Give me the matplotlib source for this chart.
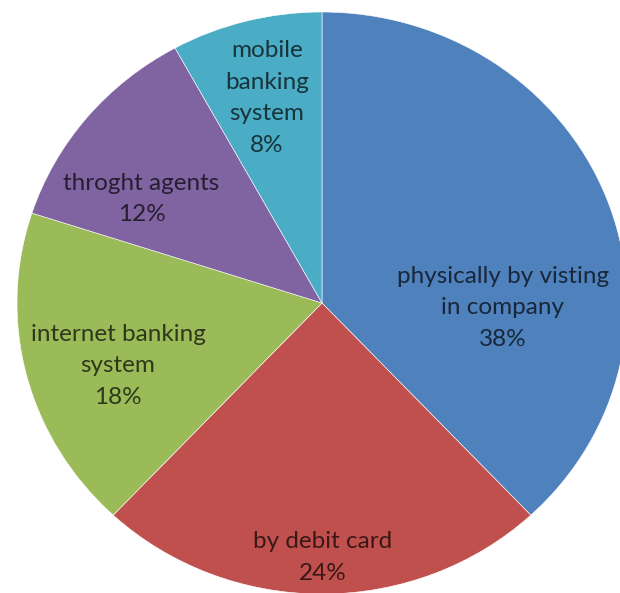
import matplotlib.pyplot as plt
import numpy as np
from matplotlib.colors import to_rgb

# payment channel shares (%)
channels = ["physically by visting\nin company", "by debit card",
            "internet banking\nsystem", "throght agents", "mobile\nbanking\nsystem"]
shares = [38, 24, 18, 12, 8]
colors = ["#4F81BD", "#C0504D", "#9BBB59", "#8064A2", "#4BACC6"]

# label centres in axes data units (Excel "best fit" placement)
label_pos = [(0.593, -0.017), (0.003, -0.875), (-0.669, -0.216),
             (-0.592, 0.357), (-0.180, 0.704)]

plt.rcParams['font.family'] = ['Lato', 'DejaVu Sans']

fig = plt.figure(figsize=(6.2, 5.93), dpi=100)
# slightly wide ellipse, centre at about (322, 303) px
rx, ry = 305, 291
ax = fig.add_axes([(322 - rx) / 620, (593 - 303 - ry) / 593, 2 * rx / 620, 2 * ry / 593])

wedges, _ = ax.pie(shares, colors=colors, startangle=90, counterclock=False,
                   radius=1.0, wedgeprops=dict(edgecolor='white', linewidth=0.4))
ax.set_aspect('auto')
ax.set_xlim(-1, 1)
ax.set_ylim(-1, 1)
ax.axis('off')

for name, val, col, (x, y) in zip(channels, shares, colors, label_pos):
    dark = tuple(c * 0.3 for c in to_rgb(col))
    ax.text(x, y, f"{name}\n{val}%", ha='center', va='center', fontsize=17.5,
            color=dark, linespacing=1.62)

fig.savefig("out.png", dpi=100)
